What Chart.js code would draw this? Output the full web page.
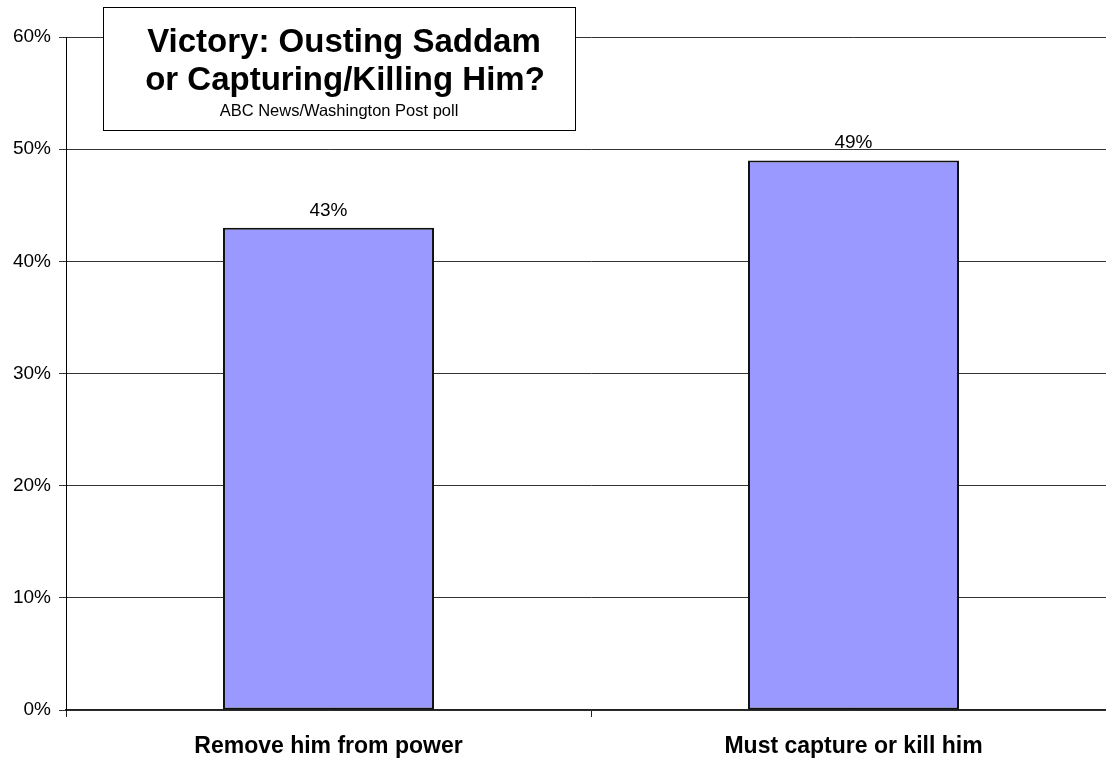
<!DOCTYPE html>
<html>
<head>
<meta charset="utf-8">
<script src="https://cdn.jsdelivr.net/npm/chart.js@4.4.1/dist/chart.umd.min.js"></script>
<style>
html,body{margin:0;padding:0;background:#fff;overflow:hidden;}
#wrap{width:1120px;height:759px;}
</style>
</head>
<body>
<div id="wrap"><canvas id="c" width="1120" height="759"></canvas></div>
<script>
const categories = ["Remove him from power", "Must capture or kill him"];
const values = [43, 49];
const yTicks = [0, 10, 20, 30, 40, 50, 60];
const titleLines = ["Victory: Ousting Saddam", "or Capturing/Killing Him?"];
const subtitle = "ABC News/Washington Post poll";

const FONT = "'Liberation Sans', Arial, sans-serif";

const labelPlugin = {
  id: 'valueLabels',
  afterDatasetsDraw(chart) {
    const ctx = chart.ctx;
    const meta = chart.getDatasetMeta(0);
    ctx.save();
    ctx.font = "19px " + FONT;
    ctx.fillStyle = "#000";
    ctx.textAlign = "center";
    ctx.textBaseline = "alphabetic";
    meta.data.forEach((bar, i) => {
      ctx.fillText(values[i] + "%", bar.x, bar.y - 12);
    });
    ctx.restore();
  }
};

const titlePlugin = {
  id: 'titleBox',
  afterDraw(chart) {
    const ctx = chart.ctx;
    ctx.save();
    ctx.fillStyle = "#fff";
    ctx.fillRect(103.5, 7.5, 472, 123);
    ctx.strokeStyle = "#000";
    ctx.lineWidth = 1;
    ctx.strokeRect(103.5, 7.5, 472, 123);
    ctx.fillStyle = "#000";
    ctx.textAlign = "center";
    ctx.textBaseline = "alphabetic";
    ctx.font = "bold 33px " + FONT;
    ctx.fillText(titleLines[0], 344, 52);
    ctx.fillText(titleLines[1], 345, 90);
    ctx.font = "16.5px " + FONT;
    ctx.fillText(subtitle, 339, 116);
    ctx.restore();
  }
};

new Chart(document.getElementById('c'), {
  type: 'bar',
  data: {
    labels: categories,
    datasets: [{
      data: values,
      backgroundColor: '#9999ff',
      borderColor: '#111',
      borderWidth: 2,
      borderSkipped: false,
      barPercentage: 0.402,
      categoryPercentage: 1
    }]
  },
  options: {
    responsive: false,
    animation: false,
    devicePixelRatio: 1,
    layout: { padding: { top: 37, right: 4, left: 0, bottom: 0 } },
    plugins: { legend: { display: false }, tooltip: { enabled: false }, title: { display: false } },
    scales: {
      x: {
        offset: true,
        grid: { offset: true, drawOnChartArea: false, drawTicks: true, tickLength: 7, color: '#222', lineWidth: 1 },
        border: { display: true, color: '#222', width: 1.5 },
        ticks: { color: '#000', font: { family: FONT, size: 23, weight: 'bold' }, padding: 16, maxRotation: 0 },
        afterFit(scale) { scale.height = 49; }
      },
      y: {
        min: 0, max: 60,
        afterBuildTicks(scale) { scale.ticks = yTicks.map(v => ({ value: v })); },
        grid: { color: '#333', lineWidth: 1, tickLength: 7, drawTicks: true },
        border: { display: true, color: '#000', width: 1 },
        ticks: { color: '#000', font: { family: FONT, size: 19 }, padding: 8, callback: v => v + '%' },
        afterFit(scale) { scale.width = 66; }
      }
    }
  },
  plugins: [labelPlugin, titlePlugin]
});
</script>
</body>
</html>
